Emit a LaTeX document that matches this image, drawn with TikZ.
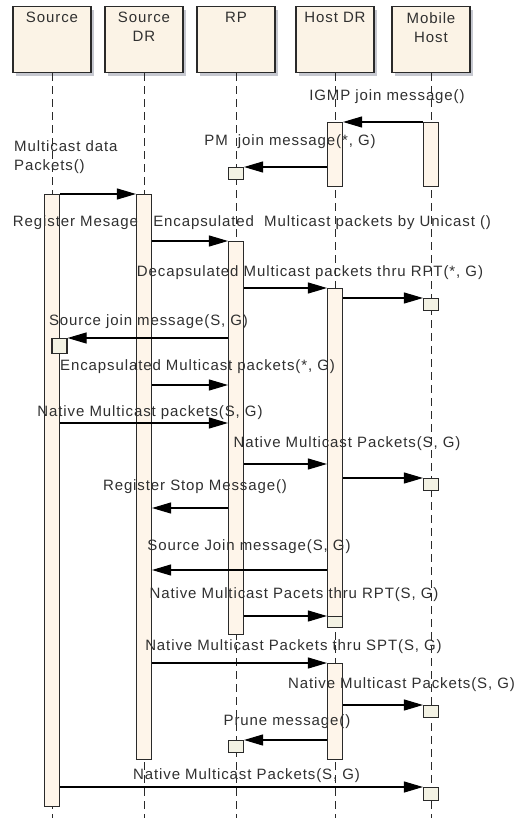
\documentclass[tikz,border=0pt]{standalone}
\usepackage{fontspec}
\setmainfont{Liberation Sans}
\usetikzlibrary{arrows.meta,shadows}
\definecolor{hdrfill}{HTML}{FBF3E6}
\definecolor{actfill}{HTML}{FEF5EA}
\definecolor{boxfill}{HTML}{F3F2E4}
\definecolor{shadowc}{HTML}{C6C8D0}
\definecolor{linec}{HTML}{2A2A2A}
\definecolor{textc}{HTML}{303030}
\begin{document}
\begin{tikzpicture}[x=1pt,y=-1pt,
  font=\fontsize{15}{19}\selectfont\addfontfeatures{LetterSpace=6},
  hdr/.style={draw=linec, fill=hdrfill, line width=1.1pt, minimum width=78pt, minimum height=66pt, inner sep=0pt,
    general shadow={fill=shadowc, shadow xshift=3pt, shadow yshift=-3pt}},
  act/.style={draw=linec, fill=actfill, line width=1.1pt, minimum width=15pt, inner sep=0pt, anchor=north},
  sbox/.style={draw=linec, fill=boxfill, line width=1.1pt, minimum width=15pt, minimum height=12pt, inner sep=0pt, anchor=north},
  life/.style={draw=linec, line width=1pt, dash pattern=on 8pt off 5pt},
  msg/.style={draw=black, line width=1.1pt, -{Triangle[length=19pt,width=11pt]}},
  lbl/.style={inner sep=0pt, text=textc},
  htxt/.style={inner sep=0pt, text=textc, anchor=north, align=center}
]
\useasboundingbox (0,0) rectangle (524,818);
\fill[white] (0,0) rectangle (524,818);
\coordinate (bottom) at (0,818);

% headers
\node[hdr, anchor=north] (hSrc) at (52,6) {};
\node[hdr, anchor=north] (hSDR) at (144,6) {};
\node[hdr, anchor=north] (hRP) at (236,6) {};
\node[hdr, anchor=north] (hHD) at (335,6) {};
\node[hdr, anchor=north] (hMH) at (431,6) {};
\node[htxt] (tSrc) at ([yshift=-6pt]hSrc.north) {Source};
\node[htxt] (tSDR) at ([yshift=-6pt]hSDR.north) {Source\\DR};
\node[htxt] (tRP) at ([yshift=-6pt]hRP.north) {RP};
\node[htxt] (tHD) at ([yshift=-6pt]hHD.north) {Host DR};
\node[htxt] (tMH) at ([yshift=-6pt]hMH.north) {Mobile\\Host};

% lifelines
\foreach \h in {hSrc,hSDR,hRP,hHD,hMH}
  \draw[life] (\h.south) -- (\h.south |- bottom);

% activations
\node[act, minimum height=612pt] (aSrc) at (52,194) {};
\node[act, minimum height=565pt] (aSDR) at (144,194) {};
\node[act, minimum height=393pt] (aRP) at (236,241) {};
\node[act, minimum height=64pt] (aHD1) at (335,122) {};
\node[act, minimum height=328pt] (aHD2) at (335,288) {};
\node[act, minimum height=96pt] (aHD3) at (335,663) {};
\node[act, minimum height=64pt] (aMH1) at (431,122) {};

% small boxes
\node[sbox] (bRP1) at (236,167) {};
\node[sbox] (bMH1) at (431,298) {};
\node[sbox, minimum height=15pt] (bSrc) at (59.5,338) {};
\node[sbox] (bMH2) at (431,478) {};
\node[sbox, minimum height=11pt] (bHD) at (335,616) {};
\node[sbox] (bMH3) at (431,705) {};
\node[sbox] (bRP2) at (236,740) {};
\node[sbox, minimum height=13pt] (bMH4) at (431,787) {};

% message y levels
\coordinate (m1) at (0,122);
\coordinate (m2) at (0,167);
\coordinate (m3) at (0,194);
\coordinate (m4) at (0,241);
\coordinate (m5) at (0,288);
\coordinate (m6) at (0,298);
\coordinate (m7) at (0,338);
\coordinate (m8) at (0,385);
\coordinate (m9) at (0,423);
\coordinate (m10) at (0,464);
\coordinate (m11) at (0,478);
\coordinate (m12) at (0,508);
\coordinate (m13) at (0,570);
\coordinate (m14) at (0,616);
\coordinate (m15) at (0,663);
\coordinate (m16) at (0,705);
\coordinate (m17) at (0,740);
\coordinate (m18) at (0,787);

% messages
\draw[msg] (aMH1.west |- m1) -- (aHD1.east |- m1);
\draw[msg] (aHD1.west |- m2) -- (bRP1.east |- m2);
\draw[msg] (aSrc.east |- m3) -- (aSDR.west |- m3);
\draw[msg] (aSDR.east |- m4) -- (aRP.west |- m4);
\draw[msg] (aRP.east |- m5) -- (aHD2.west |- m5);
\draw[msg] (aHD2.east |- m6) -- (bMH1.west |- m6);
\draw[msg] (aRP.west |- m7) -- (bSrc.east |- m7);
\draw[msg] (aSDR.east |- m8) -- (aRP.west |- m8);
\draw[msg] (aSrc.east |- m9) -- (aRP.west |- m9);
\draw[msg] (aRP.east |- m10) -- (aHD2.west |- m10);
\draw[msg] (aHD2.east |- m11) -- (bMH2.west |- m11);
\draw[msg] (aRP.west |- m12) -- (aSDR.east |- m12);
\draw[msg] (aHD2.west |- m13) -- (aSDR.east |- m13);
\draw[msg] (aRP.east |- m14) -- (bHD.west |- m14);
\draw[msg] (aSDR.east |- m15) -- (aHD3.west |- m15);
\draw[msg] (aHD3.east |- m16) -- (bMH3.west |- m16);
\draw[msg] (aHD3.west |- m17) -- (bRP2.east |- m17);
\draw[msg] (aSrc.east |- m18) -- (bMH4.west |- m18);

% labels
\node[lbl] (l1) at (387,97) {IGMP join message()};
\node[lbl] (l2) at (290,142) {PM\ \ join message(*, G)};
\node[lbl, anchor=west, align=left] (l3) at (14,157.5) {Multicast data\\Packets()};
\node[lbl] (l4) at (252,223) {Register Mesage\ \ \ Encapsulated\ \ Multicast packets by Unicast ()};
\node[lbl] (l5) at (310,273) {Decapsulated Multicast packets thru RPT(*, G)};
\node[lbl] (l6) at (148.5,322) {Source join message(S, G)};
\node[lbl] (l7) at (197.5,367) {Encapsulated Multicast packets(*, G)};
\node[lbl] (l8) at (150,413) {Native Multicast packets(S, G)};
\node[lbl] (l9) at (347,444) {Native Multicast Packets(S, G)};
\node[lbl] (l10) at (195,487) {Register Stop Message()};
\node[lbl] (l11) at (249,547) {Source Join message(S, G)};
\node[lbl] (l12) at (294,595) {Native Multicast Pacets thru RPT(S, G)};
\node[lbl] (l13) at (293.5,647) {Native Multicast Packets thru SPT(S, G)};
\node[lbl] (l14) at (401.5,685) {Native Multicast Packets(S, G)};
\node[lbl] (l15) at (287,722) {Prune message()};
\node[lbl] (l16) at (246.5,776) {Native Multicast Packets(S, G)};
\end{tikzpicture}
\end{document}
